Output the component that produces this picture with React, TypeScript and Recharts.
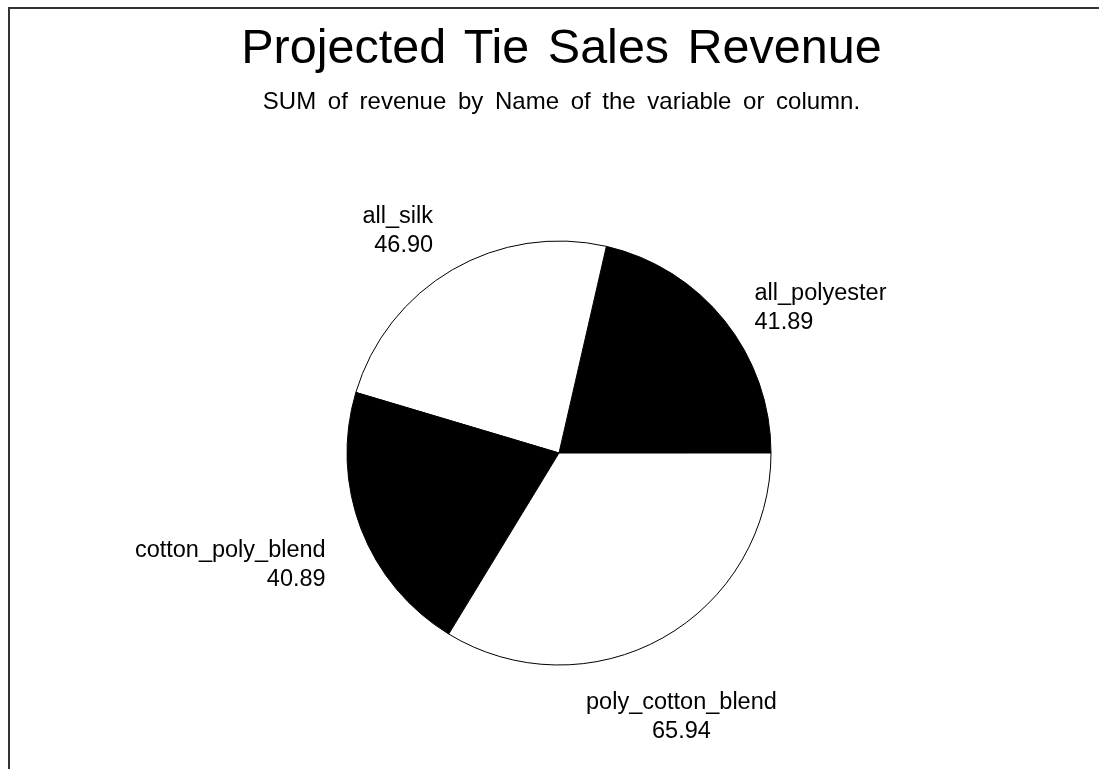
import React from 'react';
import { PieChart, Pie, Cell } from 'recharts';

const fabrics = ['all_polyester', 'all_silk', 'cotton_poly_blend', 'poly_cotton_blend'];
const revenue = [41.89, 46.9, 40.89, 65.94];
const sliceColors = ['#000000', '#ffffff', '#000000', '#ffffff'];

const data = fabrics.map((name, i) => ({ name, value: revenue[i] }));

const FONT = '"Liberation Sans", Arial, Helvetica, sans-serif';
const RAD = Math.PI / 180;

const renderLabel = (props: any) => {
  const { cx, cy, midAngle, outerRadius, name, value } = props;
  const r = outerRadius + 38;
  const cos = Math.cos(-midAngle * RAD);
  const sin = Math.sin(-midAngle * RAD);
  const x = cx + r * cos;
  const y = cy + r * sin;
  const up = -sin; // positive when above centre
  // push the two-line block away from the slice
  const first = y + 12 - 40 * up * up * up;
  const anchor = up < -0.8 ? 'middle' : cos > 0 ? 'start' : 'end';
  return (
    <text x={x} y={first} textAnchor={anchor} fontFamily={FONT} fontSize={23.5} fill="#000">
      <tspan x={x}>{name}</tspan>
      <tspan x={x} dy={29}>{value.toFixed(2)}</tspan>
    </text>
  );
};

export default function App() {
  return (
    <div style={{ position: 'fixed', left: 8, top: 7, width: 1091, height: 762, overflow: 'hidden' }}>
      <div
        style={{
          position: 'absolute',
          left: 0,
          top: 0,
          width: 1200,
          height: 900,
          borderTop: '2px solid #333',
          borderLeft: '2px solid #333',
          boxSizing: 'border-box',
        }}
      />
      <svg width={1091} height={130} style={{ position: 'absolute', left: 0, top: 0 }}>
        <text x={553.5} y={56} textAnchor="middle" fontFamily={FONT} fontSize={48.5} wordSpacing={5} fill="#000">
          Projected Tie Sales Revenue
        </text>
        <text x={553.5} y={102} textAnchor="middle" fontFamily={FONT} fontSize={24} wordSpacing={5} fill="#000">
          SUM of revenue by Name of the variable or column.
        </text>
      </svg>
      <div style={{ position: 'absolute', left: 0, top: 0 }}>
        <PieChart width={1091} height={762} margin={{ top: 0, right: 0, bottom: 0, left: 0 }}>
          <Pie
            data={data}
            dataKey="value"
            nameKey="name"
            cx={551}
            cy={446}
            outerRadius={212}
            startAngle={0}
            endAngle={360}
            stroke="#000"
            strokeWidth={1}
            label={renderLabel}
            labelLine={false}
            isAnimationActive={false}
          >
            {data.map((d, i) => (
              <Cell key={d.name} fill={sliceColors[i]} />
            ))}
          </Pie>
        </PieChart>
      </div>
    </div>
  );
}
